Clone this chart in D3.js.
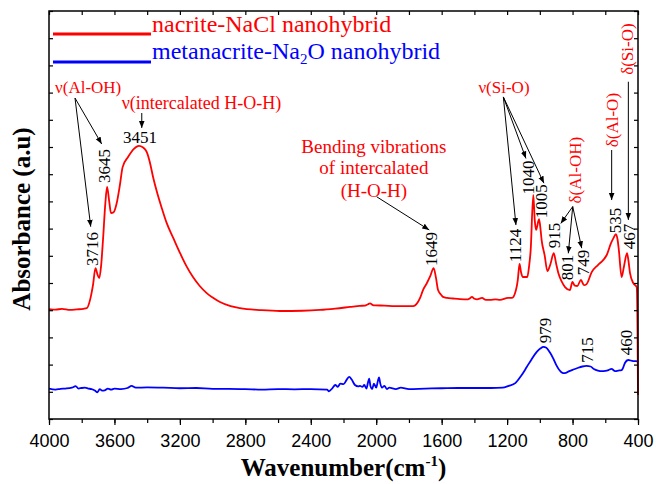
<!DOCTYPE html>
<html><head><meta charset="utf-8">
<script src="https://cdn.jsdelivr.net/npm/d3@7/dist/d3.min.js"></script>
<style>body{margin:0;background:#fff}svg{display:block}</style>
</head><body>
<svg id="c" width="656" height="484"></svg>
<script>
// ---------- data ----------
const redWn = [4000,3960,3920,3872,3830,3790,3768,3749,3731,3716,3703,3693,3682,3670,3656,3645,3632,3621,3605,3586,3568,3550,3517,3481,3451,3425,3403,3384,3364,3338,3311,3281,3240,3199,3160,3120,3080,3036,2995,2955,2890,2833,2700,2588,2450,2344,2250,2160,2100,2069,2050,2038,2020,2007,1950,1885,1820,1775,1745,1732,1714,1690,1670,1649,1635,1622,1605,1592,1567,1530,1488,1440,1425,1415,1400,1384,1353,1330,1305,1270,1243,1195,1170,1146,1135,1124,1115,1105,1090,1077,1066,1056,1040,1031,1023,1005,998,989,970,954,935,915,900,887,866,846,816,801,786,771,749,730,714,683,645,612,591,565,550,535,525,517,500,486,467,458,449,429,408,403,400];
const redAbs = [4.04,4.02,4.05,4.01,4.03,4.05,4.08,4.38,4.93,5.55,5.30,5.18,5.60,6.58,7.90,8.53,8.00,7.57,7.60,7.94,8.55,9.26,9.63,9.93,10.04,9.98,9.82,9.45,8.90,8.30,7.76,7.21,6.65,6.10,5.62,5.22,4.90,4.63,4.45,4.30,4.15,4.08,4.00,3.97,3.98,4.01,4.06,4.12,4.16,4.17,4.22,4.25,4.19,4.18,4.17,4.15,4.15,4.15,4.30,4.45,4.74,5.00,5.25,5.55,5.20,4.74,4.58,4.49,4.45,4.43,4.41,4.40,4.45,4.49,4.42,4.40,4.45,4.38,4.38,4.40,4.38,4.45,4.45,4.74,5.10,5.70,5.40,5.22,5.22,5.22,5.60,6.21,8.24,7.30,6.95,7.35,7.10,6.58,6.00,5.44,5.70,6.10,5.70,5.37,5.05,4.85,4.74,5.04,4.90,4.89,5.11,4.92,4.96,5.40,5.66,5.85,6.03,6.47,6.65,6.80,6.60,6.21,5.22,5.60,6.10,5.80,5.37,5.00,4.85,3.27,0.88];

const blueWn = [4000,3960,3930,3900,3860,3837,3820,3800,3780,3760,3740,3720,3704,3690,3675,3660,3640,3620,3600,3560,3520,3495,3470,3400,3300,3200,3100,3000,2900,2800,2700,2600,2500,2400,2300,2289,2270,2250,2235,2220,2200,2180,2165,2150,2130,2110,2099,2085,2073,2060,2050,2043,2035,2025,2014,2000,1990,1983,1975,1965,1950,1935,1920,1880,1850,1800,1700,1600,1500,1400,1300,1228,1190,1150,1115,1080,1050,1020,995,979,960,940,920,900,870,856,840,820,795,770,740,715,690,670,645,620,600,580,562,540,520,500,490,480,460,430,410,400];
const blueAbs = [1.12,1.08,1.11,1.12,1.15,1.21,1.12,1.14,1.15,1.12,1.10,1.05,0.98,1.10,1.04,1.05,1.12,1.08,1.12,1.10,1.14,1.22,1.15,1.16,1.15,1.13,1.14,1.11,1.11,1.10,1.08,1.10,1.09,1.10,1.08,1.02,1.12,1.25,1.18,1.30,1.28,1.45,1.55,1.45,1.25,1.20,1.22,1.18,1.25,1.12,1.35,1.48,1.20,1.10,1.30,1.15,1.40,1.53,1.30,1.15,1.22,1.10,1.15,1.10,1.15,1.10,1.12,1.13,1.14,1.14,1.14,1.15,1.22,1.32,1.58,1.91,2.20,2.46,2.60,2.65,2.62,2.46,2.25,1.99,1.73,1.69,1.70,1.76,1.82,1.875,1.93,1.95,1.93,1.84,1.78,1.76,1.77,1.80,1.84,1.76,1.78,1.80,1.90,2.06,2.17,2.13,2.13,2.10];

const xMajorTicks = [4000,3600,3200,2800,2400,2000,1600,1200,800,400];
const seriesNames = ["nacrite-NaCl nanohybrid", "metanacrite-Na", "2", "O nanohybrid"];
const peakLabels = [
  {t:"3716", wn:3737, v:6.25}, {t:"3645", wn:3658, v:9.30},
  {t:"1649", wn:1662, v:6.25}, {t:"1124", wn:1146, v:6.38},
  {t:"1040", wn:1072, v:8.88}, {t:"1005", wn:992, v:8.01},
  {t:"915", wn:913, v:6.75}, {t:"801", wn:828, v:5.57},
  {t:"749", wn:733, v:5.75}, {t:"535", wn:540, v:7.30},
  {t:"467", wn:455, v:6.71}, {t:"979", wn:968, v:3.25},
  {t:"715", wn:706, v:2.54}, {t:"460", wn:473, v:2.81}
];

// ---------- layout ----------
const L = 49, R = 638, T = 11, B = 419;
const svg = d3.select("#c");
const x = d3.scaleLinear().domain([4000, 400]).range([L, R]);
const y = d3.scaleLinear().domain([0, 15]).range([B, T]);
const serif = "'Liberation Serif','Times New Roman',serif";
const sans = "'Liberation Sans',Arial,sans-serif";

svg.append("defs").append("marker").attr("id","ah").attr("viewBox","0 0 10 10")
  .attr("refX",10).attr("refY",5).attr("markerWidth",7).attr("markerHeight",7)
  .attr("markerUnits","userSpaceOnUse").attr("orient","auto")
  .append("path").attr("d","M0,1 L10,5 L0,9 z").attr("fill","#000");

// curves
const line = d3.line().x(d=>x(d[0])).y(d=>y(d[1])).curve(d3.curveMonotoneX);
const redData = redWn.map((w,i)=>[w, redAbs[i]]);
const blueData = blueWn.map((w,i)=>[w, blueAbs[i]]);
svg.append("path").attr("d", line(blueData)).attr("fill","none").attr("stroke","#0000ff").attr("stroke-width",1.8);
svg.append("path").attr("d", line(redData)).attr("fill","none").attr("stroke","#ff0000").attr("stroke-width",1.8);

// axes
const minor = d3.range(4000, 399, -200);
const xb = svg.append("g").attr("transform",`translate(0,${B})`)
  .call(d3.axisBottom(x).tickValues(minor).tickSize(4).tickFormat(""));
xb.select(".domain").remove();
const xb2 = svg.append("g").attr("transform",`translate(0,${B})`)
  .call(d3.axisBottom(x).tickValues(xMajorTicks).tickSize(6).tickPadding(9).tickFormat(d3.format("d")));
xb2.select(".domain").remove();
xb2.selectAll("text").attr("font-family",sans).attr("font-size",18).attr("fill","#000");
const xt = svg.append("g").attr("transform",`translate(0,${T})`)
  .call(d3.axisTop(x).tickValues(minor).tickSize(-4).tickFormat(""));
xt.select(".domain").remove();
const yv = d3.range(0, 16, 1);
const yl = svg.append("g").attr("transform",`translate(${L},0)`)
  .call(d3.axisLeft(y).tickValues(yv).tickSize(-4).tickFormat(""));
yl.select(".domain").remove();
const yr = svg.append("g").attr("transform",`translate(${R},0)`)
  .call(d3.axisRight(y).tickValues(yv).tickSize(-4).tickFormat(""));
yr.select(".domain").remove();
svg.selectAll(".tick line").attr("stroke","#000").attr("stroke-width",1.2);
svg.append("rect").attr("x",L).attr("y",T).attr("width",R-L).attr("height",B-T)
  .attr("fill","none").attr("stroke","#000").attr("stroke-width",1.5);

// axis titles
const xtitle = svg.append("text").attr("x",(L+R)/2).attr("y",476).attr("text-anchor","middle")
  .attr("font-family",serif).attr("font-weight","bold").attr("font-size",25);
xtitle.append("tspan").text("Wavenumber(cm");
xtitle.append("tspan").attr("font-size",15).attr("dy",-10).text("-1");
xtitle.append("tspan").attr("dy",10).text(")");
svg.append("text").attr("transform",`translate(30,${(T+B)/2 + 4}) rotate(-90)`).attr("text-anchor","middle")
  .attr("font-family",serif).attr("font-weight","bold").attr("font-size",25).text("Absorbance (a.u)");

// legend
svg.append("line").attr("x1",53).attr("x2",151).attr("y1",34).attr("y2",34).attr("stroke","#ff0000").attr("stroke-width",3);
svg.append("line").attr("x1",53).attr("x2",151).attr("y1",62).attr("y2",62).attr("stroke","#0000ff").attr("stroke-width",3);
svg.append("text").attr("x",152).attr("y",32).attr("font-family",serif).attr("font-size",24).attr("fill","#ff0000").text(seriesNames[0]);
const lt = svg.append("text").attr("x",152).attr("y",59).attr("font-family",serif).attr("font-size",24).attr("fill","#0000ff");
lt.append("tspan").text(seriesNames[1]);
lt.append("tspan").attr("font-size",15).attr("dy",5).text(seriesNames[2]);
lt.append("tspan").attr("dy",-5).text(seriesNames[3]);

// peak labels (rotated)
peakLabels.forEach(p=>{
  svg.append("text").attr("transform",`translate(${x(p.wn)},${y(p.v)}) rotate(-90)`)
    .attr("text-anchor","middle").attr("dominant-baseline","central")
    .attr("font-family",serif).attr("font-size",17).attr("fill","#000").text(p.t);
});
svg.append("text").attr("x",x(3444)).attr("y",y(10.16)).attr("text-anchor","middle")
  .attr("font-family",serif).attr("font-size",17).text("3451");

// red annotation texts
const red = (t, wn, v, anchor, fs) => svg.append("text").attr("x",x(wn)).attr("y",y(v))
  .attr("text-anchor",anchor).attr("font-family",serif).attr("font-size",fs).attr("fill","#ff0000").text(t);
red("ν(Al-OH)", 3963, 11.99, "start", 17);
red("ν(intercalated H-O-H)", 3556, 11.40, "start", 18);
red("Bending vibrations", 2014, 9.78, "middle", 19);
red("of intercalated", 2014, 9.01, "middle", 19);
red("(H-O-H)", 2014, 8.17, "middle", 19);
red("ν(Si-O)", 1219, 11.97, "middle", 17);
const redRot = (t, wn, v) => svg.append("text").attr("transform",`translate(${x(wn)},${y(v)}) rotate(-90)`)
  .attr("text-anchor","middle").attr("dominant-baseline","central")
  .attr("font-family",serif).attr("font-size",17).attr("fill","#ff0000").text(t);
redRot("δ(Al-OH)", 785, 9.15);
redRot("δ(Al-O)", 556, 10.99);
redRot("δ(Si-O)", 467, 13.60);

// arrows
const arrows = [
  [3841,11.80,3745,7.07],[3841,11.80,3678,10.11],[3433,11.25,3433,10.70],
  [1997,8.17,1676,6.95],[1223,11.84,1146,7.13],[1223,11.84,1085,9.58],[1223,11.84,975,8.67],
  [799,7.81,872,7.19],[799,7.81,826,6.09],[799,7.81,744,6.28],
  [561,9.89,561,8.05],[459,12.40,459,7.32]
];
arrows.forEach(a=>{
  svg.append("line").attr("x1",x(a[0])).attr("y1",y(a[1])).attr("x2",x(a[2])).attr("y2",y(a[3]))
    .attr("stroke","#000").attr("stroke-width",1).attr("marker-end","url(#ah)");
});
</script>
</body></html>
